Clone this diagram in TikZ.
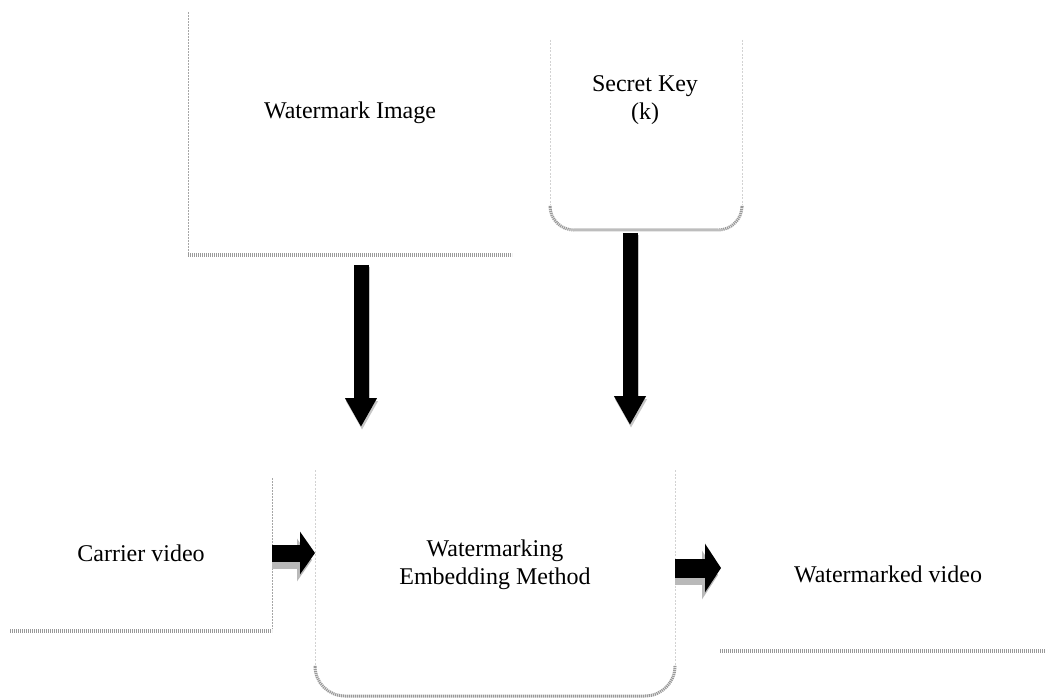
\documentclass[tikz,border=0pt]{standalone}
\usepackage{fontspec}
\setmainfont{Liberation Serif}
\usepackage{tikz}
\usetikzlibrary{arrows.meta}

\begin{document}
\begin{tikzpicture}[x=1pt, y=-1pt,
		label/.style={font=\fontsize{24}{27.6}\selectfont, align=center, inner sep=0pt},
		edge/.style={gray!70, line width=0.7pt, dash pattern=on 2pt off 1pt},
		faint/.style={gray!35, line width=0.6pt, dash pattern=on 2pt off 1.5pt},
		hatch/.style={gray!80, line width=4.5pt, dash pattern=on 1.2pt off 0.8pt},
		downarrow/.style={line width=15pt, -{Triangle[width=30pt,length=29pt]}},
		rightarrow/.style={line width=17pt, -{Triangle[width=42pt,length=15pt]}}]
	\useasboundingbox (0, 0) rectangle (1046, 700);
	% boxes
	\draw[edge] (188, 12) -- (188, 254);
	\draw[hatch] (188, 255) -- (512, 255);
	\draw[faint] (550, 40) -- (550, 205);
	\draw[faint] (742, 40) -- (742, 205);
	\draw[hatch, line width=3pt, rounded corners=24] (550, 207) -- (550, 230) -- (742, 230) -- (742, 207);
	\draw[edge] (272, 478) -- (272, 629);
	\draw[hatch] (10, 631) -- (272, 631);
	\draw[faint] (315, 470) -- (315, 665);
	\draw[faint] (675, 470) -- (675, 665);
	\draw[hatch, line width=3pt, rounded corners=30] (315, 667) -- (315, 696) -- (675, 696) -- (675, 667);
	\draw[hatch] (720, 651) -- (1046, 651);
	% labels
	\node[label] (wmimg) at (350, 113) {Watermark Image};
	\node[label] (key) at (645, 100) {Secret Key\\(k)};
	\node[label] (carrier) at (141, 553) {Carrier video};
	\node[label] (embed) at (495, 565) {Watermarking\\Embedding Method};
	\node[label] (wmvideo) at (888, 574) {Watermarked video};
	% arrow ends
	\coordinate (a1s) at (361, 265);
	\coordinate (a1e) at (361, 427);
	\coordinate (a2s) at (630, 233);
	\coordinate (a2e) at (630, 425);
	\coordinate (a3s) at (272, 553);
	\coordinate (a3e) at (315, 553);
	\coordinate (a4s) at (675, 568);
	\coordinate (a4e) at (721, 568);
	% shadows
	\draw[downarrow, gray!45] ([xshift=1, yshift=-2]a1s) -- ([xshift=1, yshift=-3]a1e);
	\draw[downarrow, gray!45] ([xshift=1, yshift=-2]a2s) -- ([xshift=1, yshift=-3]a2e);
	\draw[rightarrow, gray!55] ([yshift=-7]a3s) -- ([xshift=-3, yshift=-7]a3e);
	\draw[rightarrow, gray!55, line width=19pt, -{Triangle[width=48pt,length=16pt]}] ([yshift=-7]a4s) -- ([xshift=-3, yshift=-7]a4e);
	% arrows
	\draw[downarrow] (a1s) -- (a1e);
	\draw[downarrow] (a2s) -- (a2e);
	\draw[rightarrow] (a3s) -- (a3e);
	\draw[rightarrow, line width=19pt, -{Triangle[width=48pt,length=16pt]}] (a4s) -- (a4e);
\end{tikzpicture}
\end{document}
